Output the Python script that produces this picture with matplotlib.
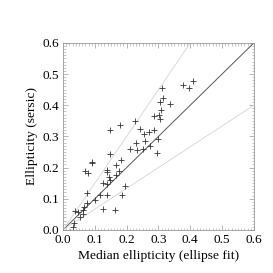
import numpy as np
import matplotlib
matplotlib.use('Agg')
import matplotlib.pyplot as plt
from matplotlib.ticker import MultipleLocator

# median ellipticity from ellipse fit vs sersic ellipticity
e_fit = [0.409, 0.376, 0.396, 0.311, 0.315, 0.305, 0.335, 0.308, 0.306, 0.302,
         0.285, 0.147, 0.179, 0.226, 0.243, 0.255, 0.270, 0.287, 0.258, 0.228,
         0.210, 0.231, 0.252, 0.272, 0.294, 0.300, 0.147, 0.090, 0.091, 0.182,
         0.168, 0.139, 0.139, 0.068, 0.077, 0.175, 0.168, 0.144, 0.149, 0.137,
         0.126, 0.116, 0.137, 0.076, 0.100, 0.076, 0.124, 0.163, 0.194, 0.185,
         0.038, 0.048, 0.053, 0.064, 0.066, 0.064, 0.034, 0.032, 0.022]
e_sersic = [0.478, 0.464, 0.456, 0.456, 0.423, 0.410, 0.403, 0.386, 0.356, 0.367,
            0.364, 0.320, 0.336, 0.350, 0.325, 0.307, 0.315, 0.320, 0.284, 0.280,
            0.260, 0.256, 0.260, 0.269, 0.247, 0.291, 0.245, 0.217, 0.213, 0.223,
            0.207, 0.191, 0.187, 0.190, 0.182, 0.190, 0.177, 0.171, 0.161, 0.148,
            0.150, 0.112, 0.112, 0.117, 0.095, 0.087, 0.066, 0.065, 0.141, 0.112,
            0.061, 0.057, 0.041, 0.063, 0.072, 0.052, 0.022, 0.009, -0.008]

plt.rcParams['font.family'] = ['Liberation Serif', 'DejaVu Serif']

fig = plt.figure(figsize=(2.73, 2.73), dpi=100)
ax = fig.add_axes([0.231, 0.158, 0.699, 0.685])

xx = np.array([0.0, 0.6])
ax.plot(xx, xx, color='#555555', lw=0.7)
ax.plot(xx, 1.5 * xx, color='#d4d4d4', lw=0.6)
ax.plot(xx, xx / 1.5, color='#d4d4d4', lw=0.6)
ax.plot(e_fit, e_sersic, '+', color='#333333', ms=4, mew=0.6)

ax.set_xlim(0, 0.6)
ax.set_ylim(0, 0.6)
ax.xaxis.set_major_locator(MultipleLocator(0.1))
ax.yaxis.set_major_locator(MultipleLocator(0.1))
ax.xaxis.set_minor_locator(MultipleLocator(0.01))
ax.yaxis.set_minor_locator(MultipleLocator(0.01))
ax.tick_params(which='both', direction='in', top=True, right=True,
               color='#999999', labelsize=9.5, pad=3)
ax.tick_params(which='major', length=3.5, width=0.5)
ax.tick_params(which='minor', length=1.8, width=0.4)
ax.xaxis.set_major_formatter(plt.FormatStrFormatter('%.1f'))
ax.yaxis.set_major_formatter(plt.FormatStrFormatter('%.1f'))
for s in ax.spines.values():
    s.set_color('#999999')
    s.set_linewidth(0.6)

ax.set_xlabel('Median ellipticity (ellipse fit)', fontsize=9.7, labelpad=3)
ax.set_ylabel('Ellipticity (sersic)', fontsize=9.7, labelpad=3)

fig.savefig('out.png', dpi=100)
